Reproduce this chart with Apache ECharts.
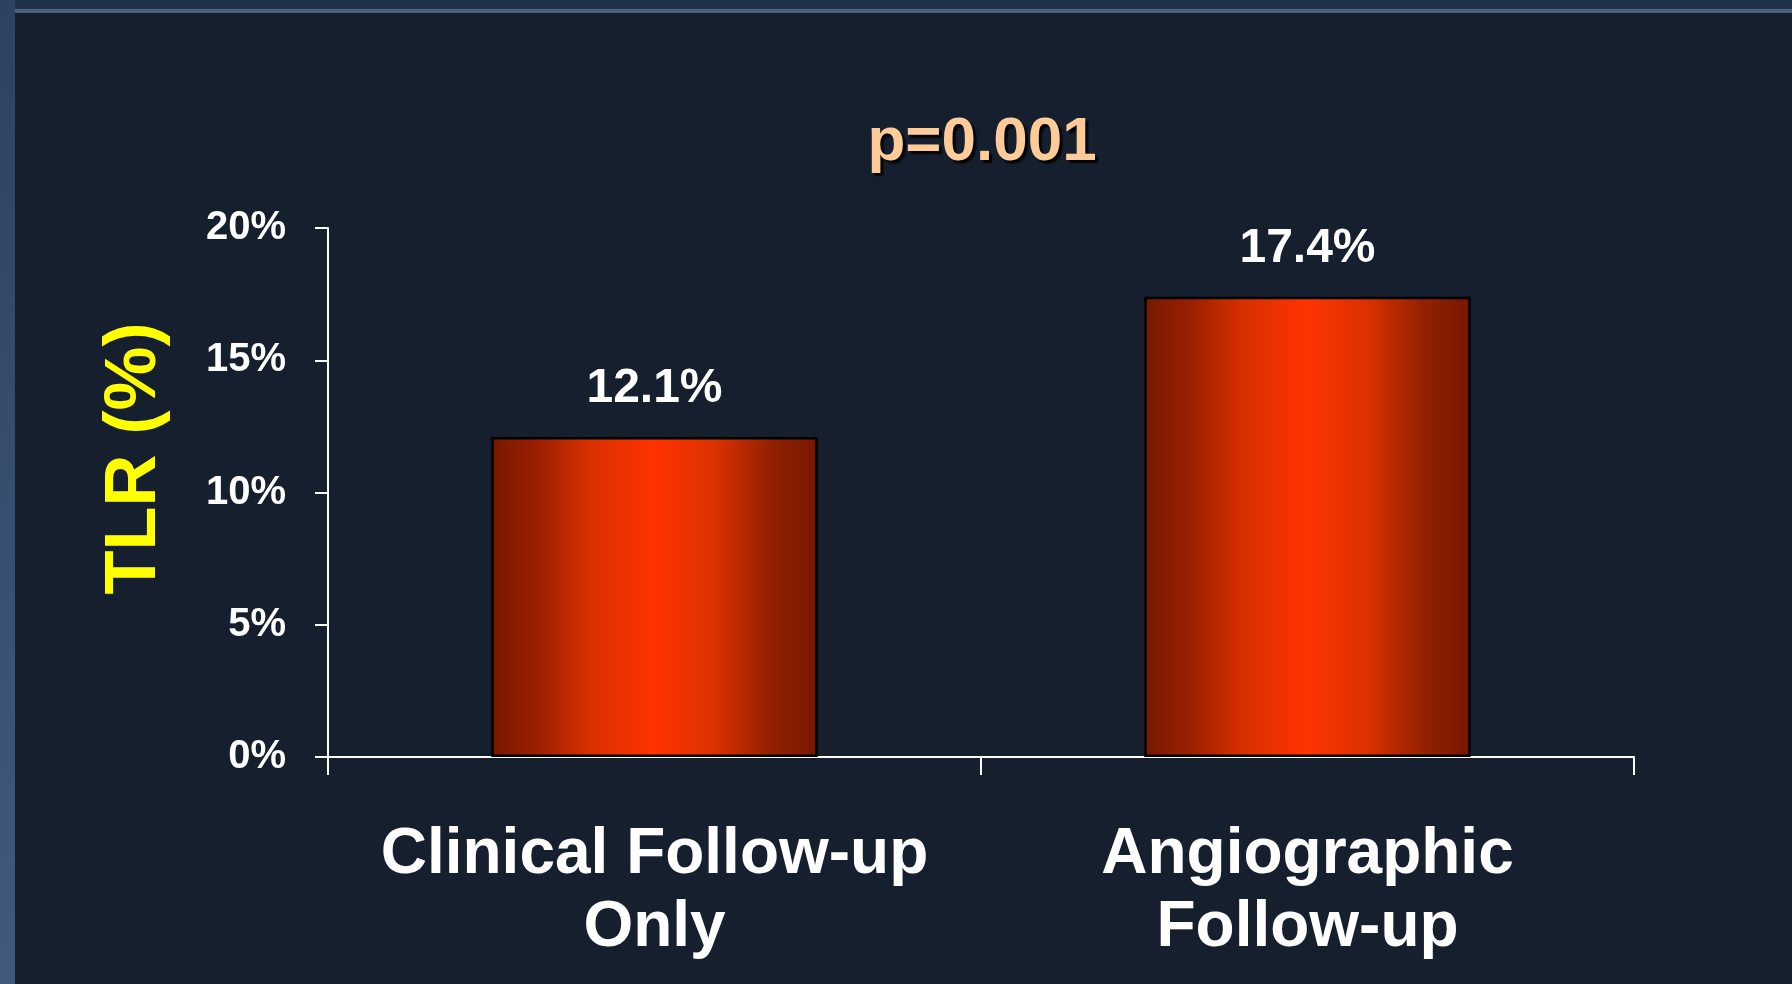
<!DOCTYPE html>
<html>
<head>
<meta charset="utf-8">
<title>TLR by follow-up strategy</title>
<script src="https://cdn.jsdelivr.net/npm/echarts@6/dist/echarts.min.js"></script>
<style>
  html, body { margin: 0; padding: 0; background: #151f2e; }
  #chart { width: 1792px; height: 984px; }
</style>
</head>
<body>
<div id="chart"></div>
<script>
// Target lesion revascularization rate by follow-up strategy
const categories = ['Clinical Follow-up\nOnly', 'Angiographic\nFollow-up'];
const tlrValues = [12.1, 17.4];
const yTicks = { min: 0, max: 20, interval: 5 };
const pValueText = 'p=0.001';
const yAxisTitle = 'TLR (%)';

const FONT = '"Liberation Sans", Arial, Helvetica, sans-serif';

const chart = echarts.init(document.getElementById('chart'), null, { renderer: 'canvas' });

const barFill = new echarts.graphic.LinearGradient(0, 0, 1, 0, [
  { offset: 0.00, color: '#761800' },
  { offset: 0.14, color: '#9a2000' },
  { offset: 0.30, color: '#d83000' },
  { offset: 0.50, color: '#ff3300' },
  { offset: 0.68, color: '#dd3100' },
  { offset: 0.86, color: '#922000' },
  { offset: 1.00, color: '#761800' }
]);

chart.setOption({
  backgroundColor: '#151f2e',
  animation: false,
  title: {
    text: pValueText,
    left: 977,
    top: 107,
    textAlign: 'center',
    textStyle: {
      fontFamily: FONT,
      fontSize: 62,
      fontWeight: 'bold',
      color: '#ffcc99',
      textShadowColor: 'rgba(0,0,0,0.9)',
      textShadowOffsetX: 3,
      textShadowOffsetY: 3,
      textShadowBlur: 2
    }
  },
  // slide frame along the top and left edges
  graphic: [
    {
      type: 'rect', left: 0, top: 0, z: -1,
      shape: { width: 1792, height: 10 },
      style: { fill: '#1f3048' }
    },
    {
      type: 'rect', left: 14, top: 9, z: -1,
      shape: { width: 1778, height: 4 },
      style: { fill: '#4a6282' }
    },
    {
      type: 'rect', left: 0, top: 0, z: -1,
      shape: { width: 15, height: 984 },
      style: {
        fill: new echarts.graphic.LinearGradient(0, 0, 0, 1, [
          { offset: 0, color: '#2c4262' },
          { offset: 1, color: '#415a7c' }
        ])
      }
    }
  ],
  grid: {
    left: 328,
    right: 158,
    top: 228,
    bottom: 227,
    containLabel: false
  },
  xAxis: {
    type: 'category',
    data: categories,
    boundaryGap: true,
    axisLine: { lineStyle: { color: '#ffffff', width: 2 } },
    axisTick: { show: true, length: 18, alignWithLabel: false, lineStyle: { color: '#ffffff', width: 2 } },
    axisLabel: {
      margin: 62,
      fontFamily: FONT,
      fontSize: 64,
      fontWeight: 'bold',
      lineHeight: 73,
      color: '#ffffff',
      interval: 0
    },
    splitLine: { show: false }
  },
  yAxis: {
    type: 'value',
    min: yTicks.min,
    max: yTicks.max,
    interval: yTicks.interval,
    name: yAxisTitle,
    nameLocation: 'middle',
    nameRotate: 90,
    nameGap: 157,
    nameTextStyle: {
      fontFamily: FONT,
      fontSize: 72,
      fontWeight: 'bold',
      color: '#ffff00',
      padding: [0, 0, 0, 68]
    },
    axisLine: { show: true, lineStyle: { color: '#ffffff', width: 2 } },
    axisTick: { show: true, length: 13, lineStyle: { color: '#ffffff', width: 2 } },
    axisLabel: {
      margin: 42,
      formatter: '{value}%',
      fontFamily: FONT,
      fontSize: 40,
      fontWeight: 'bold',
      color: '#ffffff'
    },
    splitLine: { show: false }
  },
  series: [{
    type: 'bar',
    data: tlrValues,
    barWidth: '50%',
    itemStyle: {
      color: barFill,
      borderColor: '#000000',
      borderWidth: 2.5
    },
    label: {
      show: true,
      position: 'top',
      distance: 24,
      formatter: '{c}%',
      fontFamily: FONT,
      fontSize: 48,
      fontWeight: 'bold',
      color: '#ffffff'
    }
  }]
});
</script>
</body>
</html>
